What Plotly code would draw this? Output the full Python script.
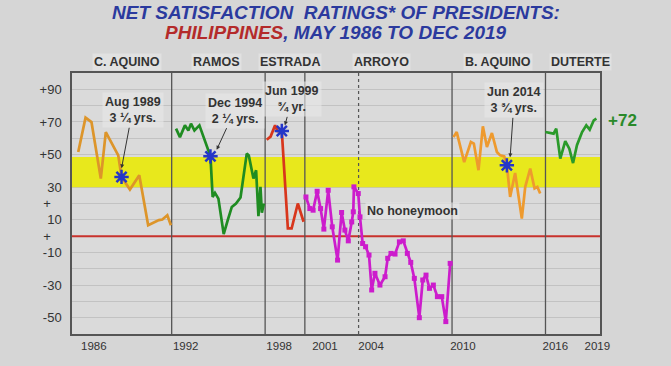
import plotly.graph_objects as go

# ---------------- data ----------------
c_aquino_x = [1986.50, 1986.97, 1987.35, 1987.95, 1988.27, 1988.60, 1989.07, 1989.28, 1989.82, 1990.42, 1990.99, 1991.68, 1991.90, 1992.22, 1992.45]
c_aquino_y = [51.6, 72.6, 69.9, 35.3, 63.8, 57.7, 49.5, 36.3, 28.6, 37.3, 6.7, 9.8, 10.2, 12.8, 6.7]

ramos_x = [1992.78, 1993.03, 1993.35, 1993.57, 1993.74, 1993.96, 1994.28, 1994.99, 1995.13, 1995.28, 1995.50, 1995.84, 1996.10, 1996.36, 1996.63, 1996.92, 1997.32, 1997.45, 1997.75, 1997.92, 1998.07, 1998.20, 1998.29, 1998.42]
ramos_y = [65.9, 60.7, 67.9, 64.8, 68.9, 64.8, 67.9, 48.9, 24.0, 26.5, 23.0, 1.2, 9.8, 17.9, 20.0, 23.7, 50.6, 49.5, 35.3, 40.4, 12.2, 30.2, 14.3, 20.0]

estrada_x = [1998.60, 1998.85, 1999.14, 1999.30, 1999.57, 1999.78, 1999.96, 2000.20, 2000.60, 2000.97]
estrada_y = [59.1, 61.0, 67.9, 64.4, 64.4, 28.1, 4.7, 4.7, 20.0, 8.8]

arroyo_x = [2001.12, 2001.37, 2001.58, 2001.84, 2002.06, 2002.27, 2002.55, 2002.81, 2003.15, 2003.41,
            2003.62, 2003.84, 2004.06, 2004.16, 2004.20, 2004.48, 2004.59, 2004.76, 2004.95, 2005.17,
            2005.34, 2005.55, 2005.87, 2006.20, 2006.37, 2006.58, 2006.84, 2007.12, 2007.37, 2007.63,
            2007.85, 2008.08, 2008.40, 2008.62, 2008.83, 2009.05, 2009.30, 2009.56, 2009.84, 2010.10, 2010.38]
arroyo_y = [24.0, 16.9, 15.9, 27.5, 16.9, 4.3, 28.1, 5.7, -14.7, 14.5,
            3.7, -2.9, 8.7, 14.9, 30.2, 26.1, 11.8, -4.5, -6.5, -11.6,
            -33.0, -22.8, -30.0, -24.9, -13.6, -10.6, -11.0, -3.5, -2.9, -10.6,
            -16.1, -25.9, -50.0, -26.9, -23.9, -32.0, -30.0, -37.1, -37.1, -52.4, -16.7]

b_aquino_x = [2010.59, 2010.80, 2011.28, 2011.71, 2011.90, 2012.20, 2012.48, 2012.74, 2013.06, 2013.38, 2013.59, 2013.85, 2014.02, 2014.23, 2014.55, 2014.98, 2015.20, 2015.52, 2015.80, 2015.98, 2016.16]
b_aquino_y = [60.7, 63.8, 45.4, 57.7, 56.7, 40.4, 67.3, 54.6, 63.2, 51.6, 49.5, 48.9, 43.4, 24.0, 38.7, 10.8, 30.2, 41.4, 29.2, 30.2, 26.1]

duterte_x = [2016.49, 2016.78, 2017.02, 2017.19, 2017.45, 2017.77, 2018.03, 2018.27, 2018.52, 2018.85, 2019.12, 2019.34, 2019.60, 2019.77]
duterte_y = [63.8, 63.2, 62.8, 65.9, 47.5, 58.3, 53.6, 44.8, 55.7, 63.8, 67.9, 65.3, 71.0, 72.0]

# honeymoon end markers
star_x = [1989.28, 1994.99, 1999.57, 2014.02]
star_y = [36.3, 48.9, 64.4, 43.4]
star_text = ["Aug 1989<br>3 ¼ yrs.", "Dec 1994<br>2 ¼ yrs.", "Jun 1999<br>¾ yr.", "Jun 2014<br>3 ¾ yrs."]
arrow_tip_x = [1989.28, 1995.39, 1999.77, 2014.23]
arrow_tip_y = [41.6, 53.0, 67.9, 48.3]
label_dx = [11, 18, 7, 4]
label_dy = [-58, -39, -26, -57]

presidents = ["C. AQUINO", "RAMOS", "ESTRADA", "ARROYO", "B. AQUINO", "DUTERTE"]
president_label_x = [1989.6, 1995.39, 2000.09, 2006.0, 2013.46, 2018.73]
term_dividers = [1992.5, 1998.5, 2001.05, 2010.5, 2016.5]
midterm_divider = [2004.5]

x_tick_vals = [1987.5, 1993.4, 1999.4, 2002.34, 2005.3, 2011.2, 2017.13, 2019.83]
x_tick_text = ["1986", "1992", "1998", "2001", "2004", "2010", "2016", "2019"]

y_tick_vals = list(range(-60, 101, 10))
y_tick_text = ["", "-50", "", "-30", "", "-10", "+\u00a0\u00a0\u00a0", "10", "+\u00a0\u00a0\u00a0", "30", "",
               "+50", "", "+70", "", "+90", ""]

band_low, band_high = 30, 48.5
x_min, x_max = 1986.1, 2020.0
y_min, y_max = -60, 100

# ---------------- figure ----------------
FONT = "Liberation Sans, Arial, sans-serif"
ORANGE = "#dd952a"
GREEN = "#1f8c22"
RED = "#d8361c"
MAGENTA = "#cc1ccc"
STAR = "#2536c8"

fig = go.Figure()

def line(x, y, color, markers=False):
    fig.add_trace(go.Scatter(
        x=x, y=y, mode="lines+markers" if markers else "lines",
        line=dict(color=color, width=2.7),
        marker=dict(symbol="square", size=5, color=color),
        hoverinfo="skip", showlegend=False))

line(c_aquino_x, c_aquino_y, ORANGE)
line(ramos_x, ramos_y, GREEN)
line(estrada_x, estrada_y, RED)
line(arroyo_x, arroyo_y, MAGENTA, markers=True)
line(b_aquino_x, b_aquino_y, "#ee9a2e")
line(duterte_x, duterte_y, "#2a9a2a")

fig.add_trace(go.Scatter(
    x=star_x, y=star_y, mode="markers",
    marker=dict(symbol="asterisk-open", size=12, color=STAR, line=dict(color=STAR, width=2.5)),
    hoverinfo="skip", showlegend=False))

shapes = []
shapes.append(dict(type="rect", xref="x", yref="y", x0=x_min, x1=x_max, y0=band_low, y1=band_high,
                   fillcolor="#e8e81c", line=dict(width=0), layer="between"))
shapes.append(dict(type="line", xref="x", yref="y", x0=x_min, x1=x_max, y0=0, y1=0,
                   line=dict(color="#c8322c", width=2), layer="between"))
for d in term_dividers:
    shapes.append(dict(type="line", xref="x", yref="y", x0=d, x1=d, y0=y_min, y1=y_max,
                       line=dict(color="#555555", width=1.3), layer="between"))
for d in midterm_divider:
    shapes.append(dict(type="line", xref="x", yref="y", x0=d, x1=d, y0=y_min, y1=y_max,
                       line=dict(color="#555555", width=1.2, dash="dot"), layer="between"))

annotations = []
# title
annotations.append(dict(xref="paper", yref="paper", x=0.5, y=1.2337, xanchor="center", yanchor="middle",
                        showarrow=False,
                        text="<b><i>NET SATISFACTION  RATINGS* OF PRESIDENTS:</i></b>",
                        font=dict(family=FONT, size=19, color="#2b3a9e")))
annotations.append(dict(xref="paper", yref="paper", x=0.5, y=1.1533, xanchor="center", yanchor="middle",
                        showarrow=False,
                        text="<b><i><span style='color:#b42a2a'>PHILIPPINES</span>, MAY 1986 TO DEC 2019</i></b>",
                        font=dict(family=FONT, size=19, color="#2b3a9e")))
# president headers
for name, px in zip(presidents, president_label_x):
    annotations.append(dict(xref="x", yref="paper", x=px, y=1.042, xanchor="center", yanchor="middle",
                            showarrow=False, text="<b>" + name + "</b>",
                            font=dict(family=FONT, size=12.5, color="#333333"),
                            bgcolor="rgba(232,232,232,0.6)"))
# honeymoon callouts
for t, tx, ty, dx, dy in zip(star_text, arrow_tip_x, arrow_tip_y, label_dx, label_dy):
    annotations.append(dict(xref="x", yref="y", x=tx, y=ty, ax=dx, ay=dy, text="<b>" + t + "</b>",
                            showarrow=True, arrowhead=2, arrowsize=0.8, arrowwidth=1, arrowcolor="#333333",
                            font=dict(family=FONT, size=12.5, color="#333333"),
                            bgcolor="rgba(232,232,232,0.6)", borderpad=2))
annotations.append(dict(xref="x", yref="y", x=2004.9, y=15.3, xanchor="left", yanchor="middle", showarrow=False,
                        text="<b>No honeymoon</b>", font=dict(family=FONT, size=12.5, color="#333333"),
                        bgcolor="rgba(232,232,232,0.6)"))
annotations.append(dict(xref="x", yref="y", x=duterte_x[-1], y=duterte_y[-1], xanchor="left", yanchor="middle",
                        xshift=10, yshift=-2,
                        showarrow=False, text="<b>+%d</b>" % round(duterte_y[-1]),
                        font=dict(family=FONT, size=17, color="#2a8a2a")))

fig.update_layout(
    width=671, height=366,
    margin=dict(l=72, r=71, t=73, b=32),
    paper_bgcolor="#d6d6d6", plot_bgcolor="#dadada",
    shapes=shapes, annotations=annotations,
    showlegend=False,
    xaxis=dict(range=[x_min, x_max], tickvals=x_tick_vals, ticktext=x_tick_text,
               showgrid=False, zeroline=False, showline=True, mirror=True,
               linecolor="#555555", linewidth=1.5, ticks="",
               tickfont=dict(family=FONT, size=11.5, color="#333333")),
    yaxis=dict(range=[y_min, y_max], tickvals=y_tick_vals, ticktext=y_tick_text,
               showgrid=True, gridcolor="#c2c2c2", gridwidth=1, zeroline=False,
               showline=True, mirror=True, linecolor="#555555", linewidth=1.5, ticks="",
               ticklabelstandoff=6,
               tickfont=dict(family=FONT, size=13, color="#333333")),
)

fig.write_html("out.html", config={"displayModeBar": False},
               post_script="document.body.style.margin='0';document.body.style.background='#d6d6d6';")
